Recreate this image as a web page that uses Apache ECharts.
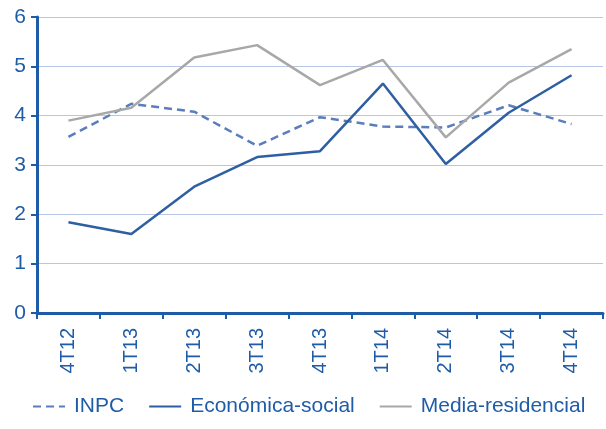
<!DOCTYPE html>
<html>
<head>
<meta charset="utf-8">
<script src="https://cdn.jsdelivr.net/npm/echarts@6/dist/echarts.min.js"></script>
<style>
  html, body { margin: 0; padding: 0; background: #fff; }
  #chart { width: 606px; height: 429px; }
</style>
</head>
<body>
<div id="chart"></div>
<script>
// Quarterly variation (%) by index
const quarters = ['4T12', '1T13', '2T13', '3T13', '4T13', '1T14', '2T14', '3T14', '4T14'];
const inpc = [3.57, 4.24, 4.08, 3.39, 3.97, 3.78, 3.76, 4.21, 3.83];
const economicaSocial = [1.84, 1.60, 2.56, 3.16, 3.28, 4.65, 3.02, 4.06, 4.82];
const mediaResidencial = [3.90, 4.16, 5.18, 5.43, 4.62, 5.13, 3.56, 4.67, 5.35];
const yTicks = [0, 1, 2, 3, 4, 5, 6];

const axisBlue = '#1f5ca8';
const font = 'Liberation Sans, Arial, sans-serif';

const chart = echarts.init(document.getElementById('chart'), null, { renderer: 'canvas' });
chart.setOption({
  animation: false,
  grid: { left: 37, right: 3, top: 17, bottom: 116, containLabel: false },
  legend: {
    orient: 'horizontal',
    top: 391,
    left: 27,
    itemWidth: 32,
    itemHeight: 12,
    itemGap: 24,
    itemStyle: { opacity: 0 },
    textStyle: { color: axisBlue, fontSize: 21, fontFamily: font, padding: [0, 0, 0, 4] },
    data: ['INPC', 'Económica-social', 'Media-residencial']
  },
  xAxis: {
    type: 'category',
    data: quarters,
    boundaryGap: true,
    axisLine: { lineStyle: { color: axisBlue, width: 3 } },
    axisTick: { show: true, length: 6, lineStyle: { color: axisBlue, width: 2 } },
    axisLabel: { rotate: 90, color: axisBlue, fontSize: 20, fontFamily: font, margin: 15 }
  },
  yAxis: {
    type: 'value',
    min: yTicks[0], max: yTicks[yTicks.length - 1], interval: 1,
    axisLine: { show: true, lineStyle: { color: axisBlue, width: 3 } },
    axisTick: { show: true, length: 6, lineStyle: { color: axisBlue, width: 2 } },
    axisLabel: { color: axisBlue, fontSize: 21, fontFamily: font, margin: 11 },
    splitLine: { lineStyle: { color: '#b9c7e6', width: 1 } }
  },
  series: [
    {
      name: 'INPC', type: 'line', data: inpc, symbol: 'none',
      lineStyle: { color: '#5a7dbd', width: 2.5, type: [8, 5] },
      itemStyle: { color: '#5a7dbd' }
    },
    {
      name: 'Económica-social', type: 'line', data: economicaSocial, symbol: 'none',
      lineStyle: { color: '#2f5fa3', width: 2.5 },
      itemStyle: { color: '#2f5fa3' }
    },
    {
      name: 'Media-residencial', type: 'line', data: mediaResidencial, symbol: 'none',
      lineStyle: { color: '#a8a8a8', width: 2.5 },
      itemStyle: { color: '#a8a8a8' }
    }
  ]
});
</script>
</body>
</html>
